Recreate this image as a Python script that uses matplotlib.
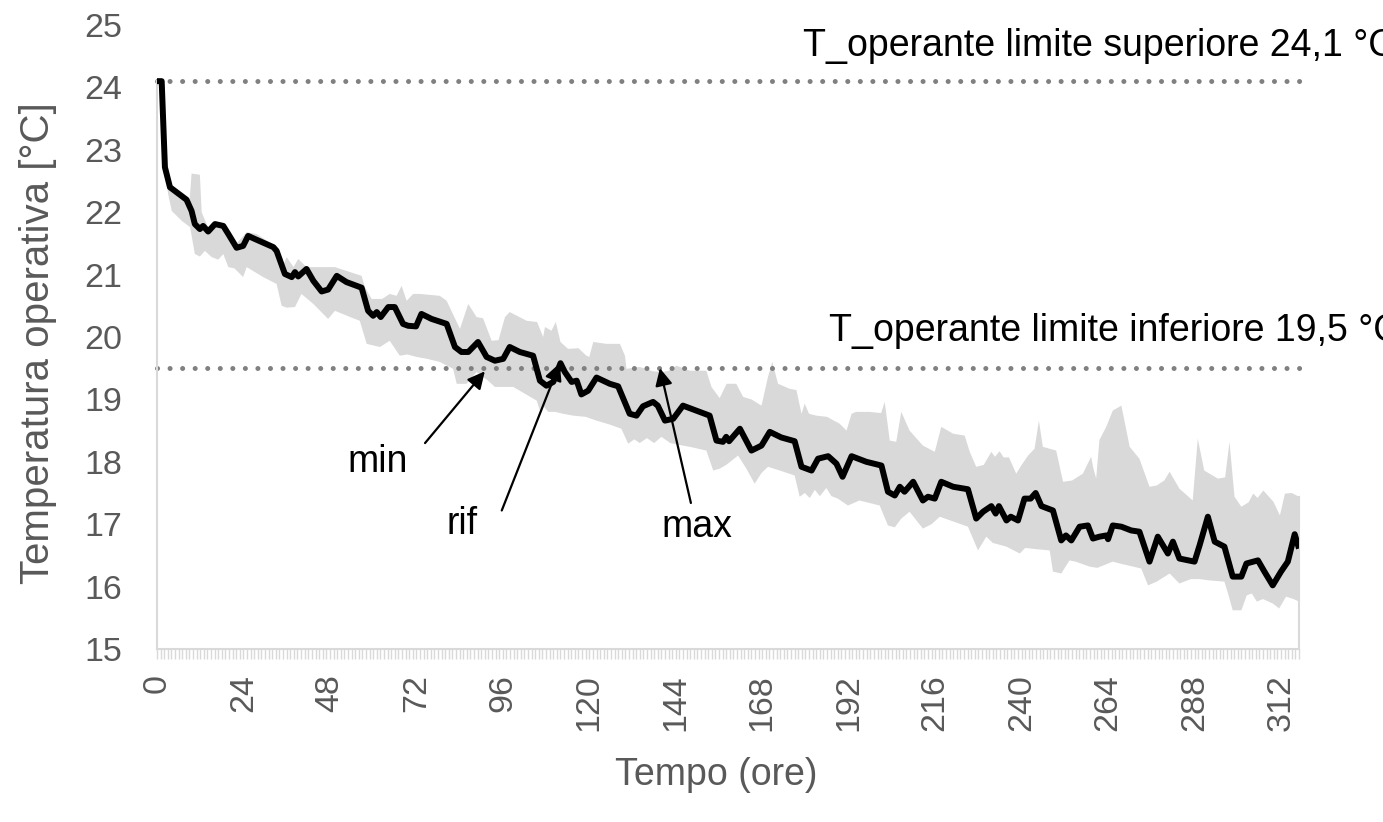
import numpy as np
import matplotlib
matplotlib.use("Agg")
import matplotlib.pyplot as plt

plt.rcParams['font.family'] = ['Liberation Sans', 'DejaVu Sans']

# Reference operative temperature (hours, °C)
rif_hours = [0, 1.3, 2.2, 3.6, 8.2, 9.6, 10.5, 11.9, 12.8, 14.2, 16.1, 18.4, 19.8, 22.1, 23.9,
             25.3, 27.2, 32.3, 33.2, 35.5, 37.4, 38.3, 39.2, 41.5, 43.4, 45.7, 47.5, 49.9,
             52.6, 56.8, 58.6, 60.0, 61.0, 62.1, 64.2, 66.0, 68.3, 69.7, 71.9, 73.4, 76.2,
             80.4, 82.7, 84.5, 86.4, 89.1, 91.5, 93.8, 96.1, 97.9, 100.7, 104.4, 106.3,
             108.1, 110.0, 112.0, 113.2, 115.1, 116.5, 117.8, 119.7, 122.0, 125.7, 128.0,
             131.2, 133.1, 134.9, 137.7, 139.0, 141.0, 143.3, 146.0, 149.7, 153.4, 155.3,
             157.1, 158.0, 158.8, 161.8, 165.0, 167.8, 170.1, 173.3, 177.0, 178.9, 181.7,
             183.5, 186.3, 188.6, 190.3, 192.8, 196.9, 201.1, 202.9, 204.8, 206.2, 207.5,
             209.9, 212.6, 214.0, 215.9, 217.7, 221.0, 225.1, 227.4, 229.3, 231.6, 232.8,
             233.7, 235.8, 237.0, 239.0, 240.8, 242.5, 243.9, 245.5, 248.7, 251.0, 252.3,
             253.8, 256.1, 258.4, 259.8, 261.6, 263.5, 264.0, 265.3, 267.7, 270.4, 272.7,
             275.5, 277.8, 280.6, 282.0, 283.8, 288.0, 289.4, 291.7, 293.6, 296.3, 298.6,
             301.0, 302.4, 305.6, 307.4, 309.7, 312.0, 313.9, 315.8, 317.0]
rif_temp = [24.1, 24.1, 22.72, 22.4, 22.2, 22.02, 21.81, 21.73, 21.78, 21.69, 21.81, 21.78,
            21.65, 21.43, 21.46, 21.62, 21.57, 21.44, 21.38, 21.01, 20.96, 21.04, 20.97,
            21.09, 20.90, 20.73, 20.76, 20.98, 20.88, 20.79, 20.42, 20.34, 20.40, 20.32,
            20.48, 20.48, 20.21, 20.18, 20.17, 20.37, 20.29, 20.21, 19.84, 19.76, 19.76,
            19.92, 19.68, 19.62, 19.65, 19.84, 19.76, 19.70, 19.30, 19.22, 19.28, 19.58,
            19.44, 19.28, 19.30, 19.08, 19.14, 19.35, 19.25, 19.21, 18.77, 18.74, 18.89,
            18.96, 18.90, 18.66, 18.69, 18.90, 18.82, 18.74, 18.34, 18.32, 18.40, 18.33,
            18.53, 18.18, 18.26, 18.48, 18.39, 18.33, 17.92, 17.86, 18.05, 18.09, 17.97,
            17.76, 18.09, 18.00, 17.94, 17.52, 17.46, 17.60, 17.52, 17.68, 17.38, 17.44,
            17.41, 17.68, 17.60, 17.56, 17.09, 17.20, 17.29, 17.17, 17.29, 17.06, 17.12,
            17.06, 17.41, 17.41, 17.50, 17.29, 17.22, 16.74, 16.82, 16.74, 16.96, 16.98,
            16.77, 16.80, 16.82, 16.76, 16.98, 16.96, 16.90, 16.88, 16.40, 16.80, 16.53,
            16.72, 16.45, 16.40, 16.66, 17.12, 16.72, 16.64, 16.16, 16.16, 16.37, 16.42,
            16.24, 16.02, 16.24, 16.40, 16.84, 16.61]

# Upper envelope of the simulated cases (max)
max_hours = [0, 1.3, 2.2, 3.6, 8.2, 9.0, 9.6, 11.9, 12.4, 14.2, 16.1, 19.8, 22.1, 24.9, 27.7,
             33.2, 34.6, 36.0, 37.9, 39.2, 41.5, 49.4, 53.6, 56.8, 57.7, 59.6, 62.5, 64.6,
             66.5, 67.9, 69.3, 71.1, 73.0, 78.5, 80.4, 84.1, 86.4, 88.7, 90.5, 92.9, 94.8,
             96.6, 97.9, 102.6, 105.5, 107.2, 107.7, 109.5, 110.7, 112.0, 114.1, 117.0,
             119.2, 120.0, 121.1, 124.8, 128.5, 129.9, 130.3, 134.0, 137.7, 140.5, 142.0,
             144.2, 147.9, 152.5, 153.9, 156.2, 158.1, 160.8, 162.7, 165.0, 167.8, 169.6,
             170.8, 172.4, 175.6, 177.5, 178.9, 179.8, 181.0, 183.0, 186.0, 189.5, 191.4,
             192.8, 194.1, 197.8, 201.0, 202.0, 203.4, 205.2, 206.6, 208.9, 212.6, 215.9,
             217.7, 221.0, 224.2, 225.6, 227.4, 229.5, 231.6, 232.6, 233.9, 235.0, 236.5,
             238.5, 240.0, 241.8, 243.6, 244.8, 245.9, 249.6, 251.5, 254.0, 257.0, 259.3,
             259.9, 260.7, 261.6, 263.5, 265.3, 267.7, 270.0, 272.7, 275.5, 277.5, 279.6,
             281.1, 283.8, 287.5, 288.9, 290.7, 294.5, 296.5, 297.7, 299.1, 301.0, 303.0,
             304.3, 305.5, 307.1, 309.9, 311.7, 313.1, 315.0, 317.0]
max_temp = [24.1, 24.1, 22.75, 22.45, 22.25, 22.15, 22.62, 22.6, 22.0, 21.75, 21.85, 21.7,
            21.5, 21.68, 21.65, 21.44, 21.1, 21.28, 21.12, 21.25, 21.12, 21.12, 21.04,
            20.98, 20.80, 20.61, 20.61, 20.69, 20.66, 20.82, 20.58, 20.69, 20.69, 20.66,
            20.58, 20.13, 20.53, 20.32, 20.30, 19.94, 19.95, 20.32, 20.40, 20.26, 20.24,
            20.0, 20.16, 20.1, 20.24, 19.92, 19.81, 19.82, 19.70, 19.68, 19.92, 19.89,
            19.89, 19.70, 19.49, 19.52, 19.45, 19.44, 19.46, 19.54, 19.46, 19.46, 19.20,
            19.02, 19.25, 19.25, 19.04, 19.0, 18.90, 19.36, 19.60, 19.25, 19.17, 19.15,
            18.77, 18.93, 18.77, 18.74, 18.72, 18.61, 18.50, 18.77, 18.80, 18.80, 18.78,
            18.96, 18.34, 18.32, 18.80, 18.50, 18.26, 18.16, 18.56, 18.45, 18.42, 18.16,
            17.92, 17.95, 18.16, 18.08, 18.17, 18.07, 18.07, 17.81, 17.95, 18.10, 18.21,
            18.66, 18.24, 18.18, 17.68, 17.70, 17.81, 18.08, 17.9, 17.73, 18.35, 18.56,
            18.82, 18.90, 18.24, 18.05, 17.60, 17.62, 17.70, 17.84, 17.57, 17.38, 18.37,
            17.86, 17.73, 17.75, 18.32, 17.44, 17.28, 17.35, 17.49, 17.42, 17.54, 17.36,
            17.14, 17.49, 17.50, 17.44]

# Lower envelope of the simulated cases (min)
min_hours = [0, 1.3, 2.2, 3.1, 4.1, 6.9, 9.2, 10.5, 11.9, 13.3, 15.2, 17.0, 18.4, 19.8, 21.5,
             23.9, 24.9, 29.5, 33.2, 34.6, 36.0, 38.3, 40.1, 43.4, 47.5, 49.4, 53.6, 56.3,
             58.2, 61.9, 64.6, 67.4, 69.5, 72.1, 75.0, 78.5, 82.2, 83.2, 85.9, 88.7, 91.9,
             93.8, 96.0, 98.9, 105.4, 106.3, 107.2, 108.6, 110.5, 112.7, 115.5, 119.0,
             122.0, 125.5, 128.9, 130.8, 132.5, 134.0, 136.0, 138.0, 140.0, 142.5, 145.0,
             147.9, 152.5, 154.4, 156.2, 158.0, 161.3, 163.5, 165.9, 167.8, 169.6, 172.9,
             177.0, 178.4, 179.8, 181.2, 182.6, 184.0, 185.8, 187.2, 189.0, 191.8, 195.0,
             200.6, 202.9, 204.8, 206.6, 208.9, 212.6, 215.0, 217.3, 225.1, 227.9, 230.2,
             232.0, 235.8, 239.5, 241.0, 244.0, 247.8, 248.7, 251.0, 253.3, 255.0, 258.9,
             261.0, 265.3, 268.0, 273.2, 275.1, 277.5, 281.1, 283.8, 287.0, 289.4, 292.0,
             296.3, 297.3, 298.6, 301.0, 302.5, 303.9, 305.3, 307.0, 309.7, 311.5, 313.4,
             315.5, 317.0]
min_temp = [24.1, 24.1, 22.7, 22.29, 22.02, 21.86, 21.76, 21.33, 21.29, 21.38, 21.28, 21.24,
            21.33, 21.12, 21.1, 20.96, 21.12, 20.96, 20.85, 20.50, 20.47, 20.48, 20.69,
            20.53, 20.29, 20.42, 20.32, 20.26, 19.89, 19.84, 19.94, 19.70, 19.72, 19.68,
            19.65, 19.60, 19.49, 19.25, 19.25, 19.44, 19.30, 19.20, 19.20, 19.20, 18.98,
            18.82, 18.90, 18.80, 18.80, 18.77, 18.74, 18.72, 18.66, 18.60, 18.53, 18.29,
            18.36, 18.30, 18.38, 18.30, 18.40, 18.30, 18.27, 18.24, 18.18, 17.86, 17.89,
            17.95, 18.10, 17.90, 17.65, 17.82, 17.92, 17.86, 17.78, 17.44, 17.50, 17.42,
            17.55, 17.45, 17.58, 17.45, 17.41, 17.30, 17.38, 17.30, 16.98, 16.95, 17.09,
            17.20, 16.93, 17.0, 17.12, 16.96, 16.58, 16.80, 16.70, 16.64, 16.53, 16.62,
            16.60, 16.58, 16.24, 16.21, 16.42, 16.40, 16.32, 16.30, 16.40, 16.36, 16.29,
            16.02, 16.08, 16.21, 16.05, 16.12, 16.12, 16.10, 16.08, 15.89, 15.62, 15.62,
            15.86, 15.89, 15.76, 15.80, 15.73, 15.65, 15.84, 15.80, 15.76]

limit_upper = 24.1
limit_lower = 19.5
limit_upper_label = "T_operante limite superiore 24,1 °C"
limit_lower_label = "T_operante limite inferiore 19,5 °C"
hours_total = 317
x_tick_values = list(range(0, 313, 24))
y_tick_values = list(range(15, 26))

GRAY_TXT = '#595959'
AXIS_GRAY = '#D9D9D9'
FS_TICK = 24.5
FS_TXT = 27

fig = plt.figure(figsize=(13.83, 8.22), dpi=100)
ax = fig.add_axes([157 / 1383, 173 / 822, 1142 / 1383, 624 / 822])

# Envelope band between min and max
band_x = np.concatenate([max_hours, min_hours[::-1]])
band_y = np.concatenate([max_temp, min_temp[::-1]])
ax.fill(band_x, band_y, color='#D9D9D9', lw=0, zorder=1)

# Comfort limits
for lim in (limit_upper, limit_lower):
    ax.plot([0, hours_total + 1.5], [lim, lim], color='#808080', lw=3.6,
            ls=(0, (0.01, 2.5)), dash_capstyle='round', zorder=2, clip_on=False)

# Reference curve
ax.plot(rif_hours, rif_temp, color='black', lw=4.3, solid_joinstyle='round',
        solid_capstyle='butt', zorder=3)

ax.set_xlim(0, hours_total)
ax.set_ylim(y_tick_values[0], y_tick_values[-1])

ax.spines['top'].set_visible(False)
ax.spines['left'].set_color(AXIS_GRAY)
ax.spines['left'].set_linewidth(1.5)
ax.spines['left'].set_bounds(y_tick_values[0], rif_temp[0])
ax.spines['right'].set_color(AXIS_GRAY)
ax.spines['right'].set_linewidth(1.5)
ax.spines['right'].set_bounds(y_tick_values[0], max_temp[-1])
ax.spines['bottom'].set_color(AXIS_GRAY)
ax.spines['bottom'].set_linewidth(1.5)

ax.set_yticks(y_tick_values)
ax.set_yticklabels([str(v) for v in y_tick_values])
ax.tick_params(axis='y', length=0, pad=25, labelsize=FS_TICK, labelcolor=GRAY_TXT)

ax.set_xticks(x_tick_values)
ax.set_xticklabels([str(v) for v in x_tick_values], rotation=90)
ax.set_xticks(np.arange(0, hours_total + 1), minor=True)
ax.tick_params(axis='x', which='both', length=7, width=1.0, color=AXIS_GRAY,
               direction='out')
ax.tick_params(axis='x', which='major', pad=11, labelsize=FS_TICK, labelcolor=GRAY_TXT)

ax.set_ylabel('Temperatura operativa [°C]', fontsize=29, color=GRAY_TXT, va='center')
ax.yaxis.set_label_coords(-0.104, 0.49)
ax.set_xlabel('Tempo (ore)', fontsize=FS_TXT, color=GRAY_TXT, va='center')
ax.xaxis.set_label_coords(0.4895, -0.2026)

ax.text(179.2, 24.66, limit_upper_label, fontsize=FS_TXT, color='black',
        ha='left', va='center', clip_on=False)
ax.text(186.5, 20.09, limit_lower_label, fontsize=FS_TXT, color='black',
        ha='left', va='center', clip_on=False)

arrow_kw = dict(arrowstyle='-|>', color='black', lw=1.6, mutation_scale=26,
                shrinkA=0, shrinkB=0)
ax.annotate('', xy=(91.0, 19.45), xytext=(74.4, 18.30), arrowprops=arrow_kw, zorder=4)
ax.annotate('', xy=(111.8, 19.58), xytext=(95.7, 17.22), arrowprops=arrow_kw, zorder=4)
ax.annotate('', xy=(139.6, 19.50), xytext=(148.2, 17.34), arrowprops=arrow_kw, zorder=4)
ax.text(61.3, 17.99, 'min', fontsize=FS_TXT, color='black', ha='center', va='center')
ax.text(84.6, 17.0, 'rif', fontsize=FS_TXT, color='black', ha='center', va='center')
ax.text(149.8, 16.95, 'max', fontsize=FS_TXT, color='black', ha='center', va='center')

fig.savefig('out.png', dpi=100, facecolor='white')
